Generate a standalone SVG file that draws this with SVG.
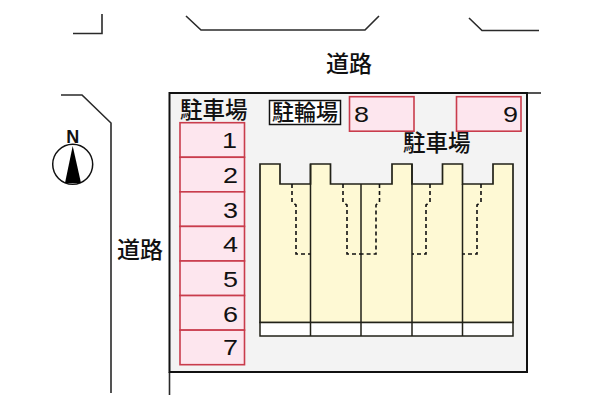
<svg xmlns="http://www.w3.org/2000/svg" width="600" height="400" viewBox="0 0 600 400">
<style>
.road{fill:none;stroke:#2a2a2a;stroke-width:1.6}
.site{fill:#f3f3f3;stroke:#111;stroke-width:2}
.slot{fill:#fde6ee;stroke:#c93c4c;stroke-width:1.6}
.bld{fill:#fef9d4;stroke:#222218;stroke-width:1.7}
.wall{fill:none;stroke:#222218;stroke-width:1.5}
.dash{fill:none;stroke:#111;stroke-width:1.6;stroke-dasharray:4 3}
.jp{font-family:"Noto Sans CJK JP","Noto Sans",sans-serif;font-size:22px;font-weight:500;fill:#111}
.num{font-family:"Liberation Sans",sans-serif;font-size:22.500px;fill:#111}
</style>
<rect width="600" height="400" fill="#fff"/>
<g id="roads">
<path class="road" d="M73 33.500H102V14"/>
<path class="road" d="M186 16L201 30H365L379 16"/>
<path class="road" d="M469 18L482 30.500H539"/>
<path class="road" d="M61 95H82L111 123V393"/>
<path class="road" d="M527 93H541"/>
<path class="road" d="M169.500 372V395"/>
</g>
<g id="site"><rect class="site" x="169.500" y="93" width="357.500" height="279"/></g>
<g id="compass">
<circle cx="72.700" cy="164.300" r="20" fill="#fff" stroke="#111" stroke-width="1.500"/>
<polygon points="72.700,146 81,183 65,183" fill="#000"/>
<text x="72.700" y="143" text-anchor="middle" font-family="Liberation Sans,sans-serif" font-weight="700" font-size="18" fill="#111">N</text>
</g>
<g id="road-n"><text class="jp" x="326" y="72" style="font-size:23px">道路</text></g>
<g id="road-w"><text class="jp" x="117" y="258" style="font-size:23px">道路</text></g>
<g id="parking-label-w"><text class="jp" x="180" y="118" style="font-size:22.500px">駐車場</text></g>
<g id="parking-label-e"><text class="jp" x="403" y="151" style="font-size:22.500px">駐車場</text></g>
<g id="bike"><rect x="269.500" y="100.500" width="71" height="24" fill="#fff" stroke="#111" stroke-width="1.500"/><text class="jp" x="272" y="120">駐輪場</text></g>
<g id="p1"><rect class="slot" x="180" y="122.700" width="64.500" height="34.570"/><text class="num" x="222" y="148" textLength="15" lengthAdjust="spacingAndGlyphs">1</text></g>
<g id="p2"><rect class="slot" x="180" y="157.270" width="64.500" height="34.570"/><text class="num" x="223" y="183" textLength="15" lengthAdjust="spacingAndGlyphs">2</text></g>
<g id="p3"><rect class="slot" x="180" y="191.840" width="64.500" height="34.570"/><text class="num" x="223" y="217.500" textLength="15" lengthAdjust="spacingAndGlyphs">3</text></g>
<g id="p4"><rect class="slot" x="180" y="226.410" width="64.500" height="34.570"/><text class="num" x="223" y="252" textLength="15" lengthAdjust="spacingAndGlyphs">4</text></g>
<g id="p5"><rect class="slot" x="180" y="260.980" width="64.500" height="34.570"/><text class="num" x="223" y="286.500" textLength="15" lengthAdjust="spacingAndGlyphs">5</text></g>
<g id="p6"><rect class="slot" x="180" y="295.550" width="64.500" height="34.570"/><text class="num" x="223" y="321.500" textLength="15" lengthAdjust="spacingAndGlyphs">6</text></g>
<g id="p7"><rect class="slot" x="180" y="330.120" width="64.500" height="34.570"/><text class="num" x="223" y="355" textLength="15" lengthAdjust="spacingAndGlyphs">7</text></g>
<g id="p8"><rect class="slot" x="349.500" y="96.700" width="64.500" height="34.500"/><text class="num" x="354" y="122" textLength="15" lengthAdjust="spacingAndGlyphs">8</text></g>
<g id="p9"><rect class="slot" x="456.500" y="96.700" width="64.500" height="34.500"/><text class="num" x="503" y="122" textLength="15" lengthAdjust="spacingAndGlyphs">9</text></g>
<g id="building">
<path class="bld" d="M260 164H280V184H310.500V164H330.500V184H392V164H412V184H442.500V164H462.500V184H493V164H513V322.500H260Z"/>
<rect x="260" y="322.500" width="253" height="13.500" fill="#fff" stroke="#222218" stroke-width="1.500"/>
<path class="wall" d="M310.500 164V336M361 184V336M412 164V336M462.500 184V336"/>
<path class="dash" d="M292 184V202L296 205V254H310.500"/>
<path class="dash" d="M343 184V202L347 205V254H361"/>
<path class="dash" d="M379.500 184V202L376 205V254H361"/>
<path class="dash" d="M430 184V202L426 205V254H412"/>
<path class="dash" d="M481 184V202L477 205V254H462.500"/>
</g>
</svg>
